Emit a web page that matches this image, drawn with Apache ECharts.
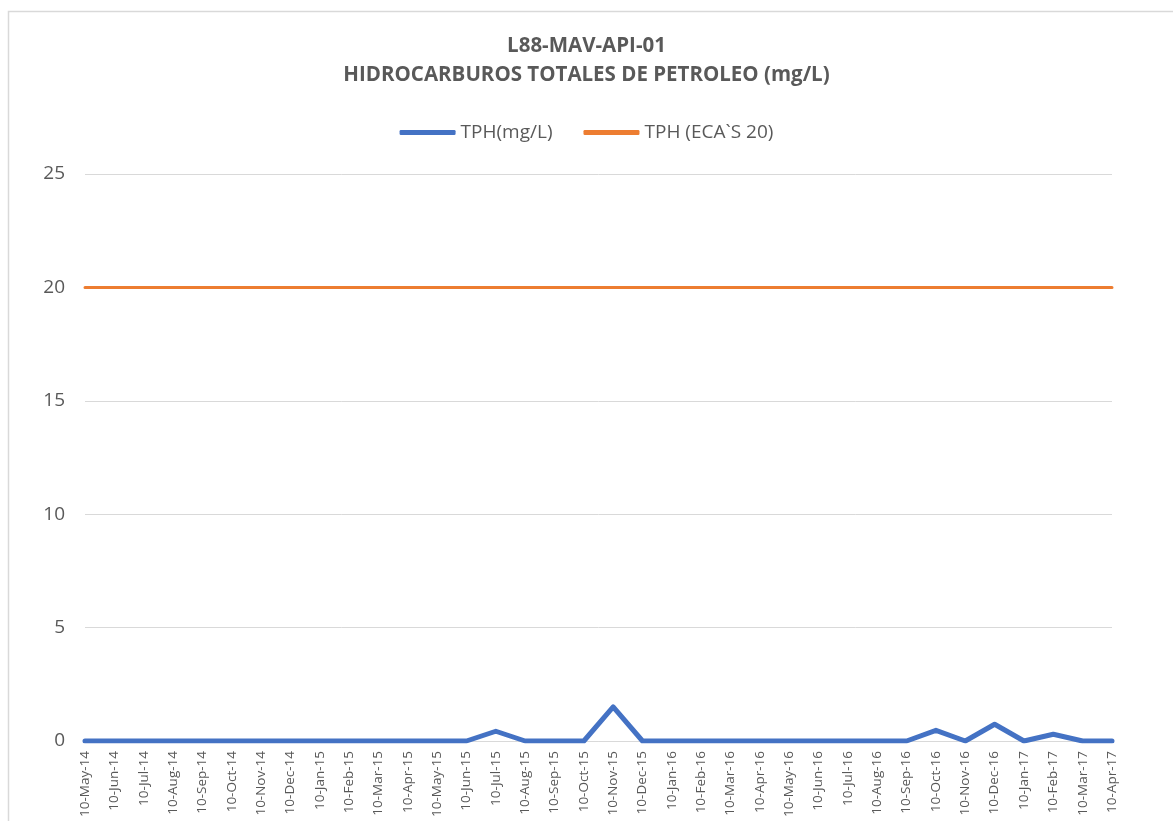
<!DOCTYPE html>
<html>
<head>
<meta charset="utf-8">
<script src="https://cdn.jsdelivr.net/npm/echarts@6/dist/echarts.min.js"></script>
<style>html,body{margin:0;padding:0;background:#fff;}#c{width:1173px;height:821px;}</style>
</head>
<body>
<div id="c"></div>
<script>
const categories = ['10-May-14','10-Jun-14','10-Jul-14','10-Aug-14','10-Sep-14','10-Oct-14','10-Nov-14','10-Dec-14',
'10-Jan-15','10-Feb-15','10-Mar-15','10-Apr-15','10-May-15','10-Jun-15','10-Jul-15','10-Aug-15','10-Sep-15','10-Oct-15','10-Nov-15','10-Dec-15',
'10-Jan-16','10-Feb-16','10-Mar-16','10-Apr-16','10-May-16','10-Jun-16','10-Jul-16','10-Aug-16','10-Sep-16','10-Oct-16','10-Nov-16','10-Dec-16',
'10-Jan-17','10-Feb-17','10-Mar-17','10-Apr-17'];
const tphValues = [0,0,0,0,0,0,0,0,
0,0,0,0,0,0,0.43,0,0,0,1.5,0,
0,0,0,0,0,0,0,0,0,0.47,0,0.74,
0,0.3,0,0];
const ecaValues = [20,20,20,20,20,20,20,20,20,20,20,20,20,20,20,20,20,20,20,20,20,20,20,20,20,20,20,20,20,20,20,20,20,20,20,20];
const yTicks = {min:0, max:25, interval:5};

const chart = echarts.init(document.getElementById('c'));
const font = 'Open Sans, Liberation Sans, sans-serif';
chart.setOption({
  animation:false,
  backgroundColor:'#fff',
  graphic:[{type:'rect',shape:{x:8.5,y:11.5,width:1200,height:900},style:{fill:'none',stroke:'#d9d9d9',lineWidth:1.5},silent:true,z:-1}],
  title:{
    text:'L88-MAV-API-01\nHIDROCARBUROS TOTALES DE PETROLEO (mg/L)',
    left:'center', top:27,
    textStyle:{fontFamily:font,fontSize:20.5,fontWeight:'bold',color:'#595959',lineHeight:29}
  },
  legend:{
    top:118, left:'center', itemWidth:56, itemHeight:5, itemGap:31,
    textStyle:{fontFamily:font,fontSize:19,color:'#595959'},
    icon:'roundRect',
    data:['TPH(mg/L)','TPH (ECA`S 20)']
  },
  grid:{left:85,right:61,top:174,bottom:80,containLabel:false,outerBoundsMode:'none'},
  xAxis:{
    type:'category', data:categories, boundaryGap:false,
    axisLine:{lineStyle:{color:'#d9d9d9',width:1}},
    axisTick:{show:false},
    axisLabel:{rotate:90,interval:0,fontFamily:font,fontSize:13.5,color:'#595959',margin:10,hideOverlap:false}
  },
  yAxis:{
    type:'value', min:yTicks.min, max:yTicks.max, interval:yTicks.interval,
    axisLine:{show:false}, axisTick:{show:false},
    axisLabel:{fontFamily:font,fontSize:19,color:'#595959',margin:20},
    splitLine:{lineStyle:{color:'#d9d9d9',width:1}}
  },
  series:[
    {name:'TPH(mg/L)',type:'line',data:tphValues,showSymbol:false,symbol:'none',
     lineStyle:{color:'#4472C4',width:5,cap:'round',join:'round'},itemStyle:{color:'#4472C4'},z:3},
    {name:'TPH (ECA`S 20)',type:'line',data:ecaValues,showSymbol:false,symbol:'none',
     lineStyle:{color:'#ED7D31',width:3,cap:'round'},itemStyle:{color:'#ED7D31'},z:2}
  ]
});
</script>
</body>
</html>
